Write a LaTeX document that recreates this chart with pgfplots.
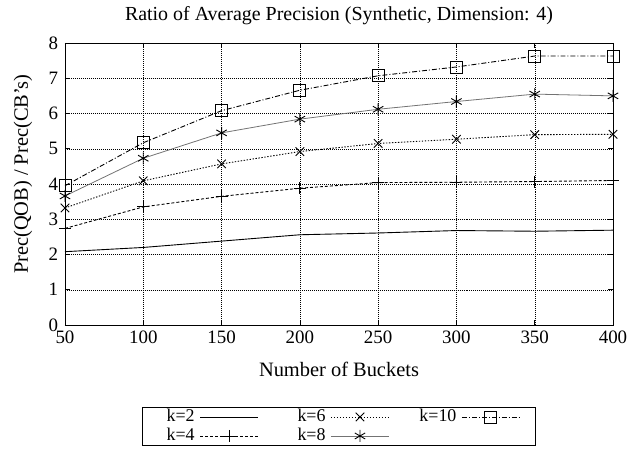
\documentclass[border=0pt]{standalone}
\usepackage{pgfplots}
\pgfplotsset{compat=1.18}
\usepackage{fontspec}
\setmainfont{Liberation Serif}
\begin{document}
\begin{tikzpicture}
\begin{axis}[
  name=ax,
  scale only axis, width=548bp, height=282bp,
  xmin=50, xmax=400, ymin=0, ymax=8,
  xtick={50,100,...,400}, ytick={0,1,...,8},
  /pgf/number format/assume math mode=true,
  grid=major, grid style={black, line width=0.4pt, dash pattern=on 1pt off 1pt},
  axis line style={line width=1pt},
  tick style={black, line width=0.6pt}, major tick length=5bp,
  tick label style={font=\fontsize{19}{21}\selectfont},
  yticklabel style={xshift=-3.5bp},
  xticklabel style={yshift=-2bp},
  title={Ratio of Average Precision (Synthetic, Dimension: 4)},
  title style={font=\fontsize{20}{22}\selectfont, at={(0.5,1)}, anchor=base, yshift=17bp},
  xlabel={Number of Buckets},
  ylabel={Prec(QOB) / Prec(CB’s)},
  label style={font=\fontsize{20.5}{22}\selectfont},
  xlabel style={at={(axis description cs:0.5,-0.184)}, anchor=base},
  ylabel style={at={(axis description cs:-0.0766,0.535)}, anchor=center, rotate=0},
  legend columns=3,
  legend plot pos=right,
  legend cell align=right,
  legend image code/.code={\draw[mark repeat=2,mark phase=2,#1] plot coordinates {(0bp,0bp) (29bp,0bp) (58bp,0bp)};},
  legend style={at={(axis description cs:0.5,-0.291)}, anchor=north, font=\fontsize{18}{19}\selectfont,
    draw=black, line width=0.8pt, inner xsep=15bp, inner ysep=1bp,
    column sep=30bp, row sep=2bp, /tikz/every odd column/.append style={column sep=5bp},
    nodes={text width=37bp, align=right, inner xsep=0pt, inner ysep=0pt, text height=13bp, text depth=4bp}},
]
\addplot[black, line width=0.9pt, no markers] coordinates {
 (50,2.08) (100,2.20) (150,2.38) (200,2.56) (250,2.61) (300,2.68) (350,2.66) (400,2.69)};
\addlegendentry{k=2}
\addplot[black, line width=0.9pt, dash pattern=on 1.4pt off 1.6pt, mark=x, mark size=6bp, mark options={solid}] coordinates {
 (50,3.32) (100,4.09) (150,4.57) (200,4.92) (250,5.15) (300,5.27) (350,5.40) (400,5.41)};
\addlegendentry{k=6}
\addplot[black, line width=0.9pt, dash pattern=on 5pt off 2pt on 1pt off 2pt, mark=square, mark size=6bp, mark options={solid}] coordinates {
 (50,3.95) (100,5.17) (150,6.08) (200,6.66) (250,7.07) (300,7.32) (350,7.63) (400,7.63)};
\addlegendentry{k=10}
\addplot[black, line width=0.9pt, dash pattern=on 3pt off 2pt, mark=+, mark size=6bp, mark options={solid}] coordinates {
 (50,2.74) (100,3.35) (150,3.65) (200,3.88) (250,4.04) (300,4.05) (350,4.07) (400,4.10)};
\addlegendentry{k=4}
\addplot[black!55, line width=0.8pt, mark=asterisk, mark size=6bp, mark options={solid,black,line width=0.9pt}] coordinates {
 (50,3.66) (100,4.73) (150,5.45) (200,5.84) (250,6.12) (300,6.34) (350,6.55) (400,6.50)};
\addlegendentry{k=8}
\end{axis}
\pgfresetboundingbox
\path ([shift={(-65bp,-124bp)}]ax.south west) rectangle ([shift={(15bp,43bp)}]ax.north east);
\end{tikzpicture}
\end{document}
